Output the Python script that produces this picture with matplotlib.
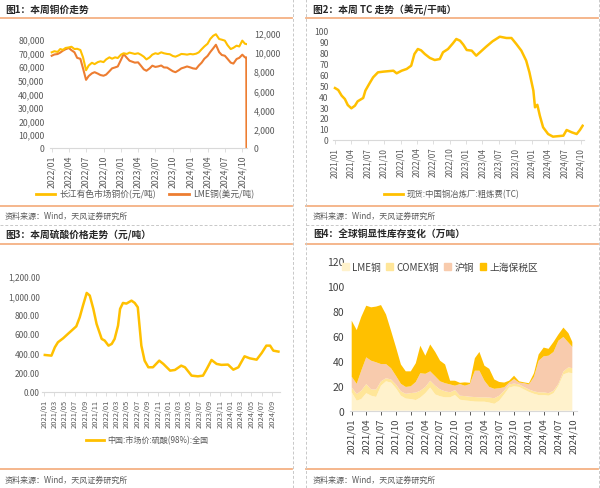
import numpy as np
import pandas as pd
import matplotlib
matplotlib.use('Agg')
import matplotlib.pyplot as plt
import matplotlib.dates as mdates
from matplotlib.lines import Line2D
from matplotlib.patches import Patch
from matplotlib.ticker import FuncFormatter

plt.rcParams['font.family'] = ['Noto Sans CJK SC', 'DejaVu Sans']

# ---------------- 数据 ----------------
# 图1 铜价（半月）
cu_dates = list(pd.date_range('2022-01-01', '2024-10-15', freq='SMS')) + [pd.Timestamp('2024-10-22')]
yangtze = [70200, 71000, 70500, 72600, 72000, 73400, 73800, 74300, 72600, 72800,
           71900, 66500, 57000, 60500, 62500, 61500, 63000, 63600, 63000, 65000,
           66500, 65500, 66500, 66000, 68500, 69500, 69000, 70000, 69500, 69000,
           69500, 68500, 67000, 65000, 66500, 68500, 69500, 69000, 70200, 69500,
           69000, 68800, 67500, 67000, 68000, 69000, 68800, 68500, 69000, 68700,
           69200, 70200, 72500, 74500, 76500, 80000, 82400, 83500, 80000, 79500,
           78800, 75500, 72600, 73500, 75100, 74500, 78800, 76500, 76300]
lme = [9620, 9750, 9800, 9950, 10150, 10300, 10430, 10200, 9980, 9400,
       9300, 8300, 7100, 7500, 7780, 7900, 7750, 7600, 7530, 7650,
       8000, 8300, 8400, 8500, 9200, 9800, 9400, 9100, 9000, 8900,
       8930, 8600, 8200, 8050, 8300, 8580, 8450, 8500, 8600, 8400,
       8380, 8200, 8000, 7900, 8100, 8300, 8400, 8500, 8400, 8300,
       8250, 8600, 8900, 9300, 9600, 10000, 10400, 10770, 10000, 9700,
       9620, 9300, 8900, 8800, 9280, 9400, 9730, 9450, 9450]
lme_tail_date = '2024-10-23'
lme_tail = 0

# 图2 TC
tc_dates = ['2021-01-01', '2021-01-19', '2021-02-07', '2021-02-25', '2021-03-13', '2021-04-02',
            '2021-04-22', '2021-05-07', '2021-06-07', '2021-06-19', '2021-07-10', '2021-08-01',
            '2021-08-28', '2021-09-25', '2021-11-22', '2021-12-10', '2022-01-07', '2022-02-04',
            '2022-03-01', '2022-03-19', '2022-04-07', '2022-04-25', '2022-05-16', '2022-06-13',
            '2022-07-10', '2022-08-07', '2022-08-25', '2022-09-22', '2022-10-19', '2022-11-07',
            '2022-11-28', '2022-12-16', '2023-01-04', '2023-02-01', '2023-02-26', '2023-03-25',
            '2023-04-22', '2023-05-28', '2023-07-07', '2023-08-13', '2023-09-10', '2023-10-07',
            '2023-11-04', '2023-12-01', '2023-12-19', '2024-01-10', '2024-01-19', '2024-02-01',
            '2024-02-15', '2024-03-04', '2024-04-01', '2024-04-28', '2024-06-25', '2024-07-13',
            '2024-08-10', '2024-09-07', '2024-09-25', '2024-10-10']
tc = [47.4, 45.6, 40.4, 37.3, 31.8, 28.8, 31.2, 35.2, 38.3, 45.0, 51.1, 57.2,
      61.8, 62.4, 63.3, 60.9, 63.3, 64.9, 67.9, 78.6, 83.2, 82.0, 78.6, 75.0,
      73.1, 74.0, 80.2, 83.2, 88.4, 92.4, 90.8, 87.2, 82.3, 81.7, 77.1, 81.1,
      85.3, 90.3, 94.5, 93.3, 93.3, 87.8, 81.7, 72.5, 61.8, 45.0, 29.7, 32.0,
      22.0, 11.4, 5.2, 2.8, 3.7, 8.9, 6.8, 5.2, 8.9, 12.8]

# 图3 硫酸
sa_dates = ['2021-01-04', '2021-02-12', '2021-03-04', '2021-03-22', '2021-04-22', '2021-05-19',
            '2021-06-10', '2021-07-08', '2021-07-28', '2021-08-16', '2021-09-07', '2021-09-25',
            '2021-10-16', '2021-11-04', '2021-12-04', '2021-12-22', '2022-01-13', '2022-02-01',
            '2022-02-18', '2022-03-10', '2022-03-22', '2022-04-08', '2022-04-28', '2022-05-28',
            '2022-06-16', '2022-07-04', '2022-07-25', '2022-08-13', '2022-09-04', '2022-10-01',
            '2022-11-07', '2022-12-01', '2023-01-10', '2023-02-07', '2023-03-16', '2023-04-07',
            '2023-05-16', '2023-06-22', '2023-07-22', '2023-08-13', '2023-09-10', '2023-10-10',
            '2023-11-07', '2023-12-16', '2024-01-16', '2024-02-15', '2024-03-22', '2024-04-22',
            '2024-06-01', '2024-07-01', '2024-07-28', '2024-08-19', '2024-09-07', '2024-10-07']
sa = [382, 375, 462, 514, 556, 600, 635, 680, 774, 895, 1027, 1000,
      861, 705, 549, 531, 479, 497, 549, 687, 861, 923, 916, 947,
      923, 878, 479, 323, 254, 254, 323, 289, 219, 226, 271, 254,
      167, 160, 167, 236, 330, 289, 279, 282, 229, 254, 368, 347,
      333, 403, 479, 479, 427, 417]

# 图4 库存（万吨）
inv_dates = list(pd.date_range('2021-01-01', '2024-09-01', freq='MS')) + [pd.Timestamp('2024-09-25')]
inv_lme = [14.7, 8.0, 9.3, 14.0, 12.0, 11.0, 20.0, 23.5, 22.5, 18.0,
           12.0, 9.7, 9.3, 8.5, 10.5, 14.0, 18.5, 13.0, 11.5, 10.7,
           10.7, 12.5, 8.8, 8.2, 7.8, 7.3, 7.2, 7.2, 6.5, 5.5,
           8.0, 13.0, 18.5, 19.5, 19.0, 17.0, 15.0, 13.5, 12.5, 12.5,
           12.0, 14.0, 20.0, 29.0, 30.5, 30.0]
inv_comex = [4.0, 5.3, 6.7, 7.3, 5.0, 6.0, 3.5, 2.5, 2.5, 3.0,
             3.5, 3.8, 4.8, 6.0, 5.5, 5.0, 5.5, 7.0, 5.5, 4.8,
             4.0, 4.0, 3.2, 3.5, 3.4, 3.6, 3.5, 3.5, 4.0, 4.5,
             4.0, 3.0, 2.5, 2.2, 2.0, 2.0, 2.0, 2.0, 2.2, 2.2,
             2.0, 2.0, 1.5, 2.5, 4.2, 4.0]
inv_shfe = [8.5, 8.2, 16.0, 21.4, 23.0, 21.7, 13.8, 11.3, 9.0, 7.0,
            6.0, 5.5, 5.4, 8.5, 14.0, 10.5, 7.5, 7.5, 6.5, 6.5,
            6.3, 3.5, 9.3, 8.3, 10.1, 21.1, 21.3, 13.3, 8.5, 7.5,
            6.0, 2.7, 1.5, 3.6, 1.5, 3.0, 4.0, 11.5, 25.3, 28.8,
            30.0, 31.0, 34.5, 27.5, 19.8, 17.0]
inv_bonded = [44.8, 43.0, 43.0, 41.3, 42.7, 44.6, 47.2, 39.7, 30.0, 23.0,
              15.5, 12.5, 12.0, 15.0, 22.0, 14.5, 21.5, 19.5, 16.5, 15.0,
              3.0, 4.0, 1.0, 2.7, 1.0, 10.0, 15.0, 12.0, 14.5, 7.5,
              5.0, 3.8, 1.5, 2.7, 1.0, 0.7, 1.0, 3.0, 5.0, 7.0,
              5.5, 8.0, 5.0, 7.5, 7.5, 4.0]
inv_labels = ['LME铜', 'COMEX铜', '沪铜', '上海保税区']

# ---------------- 画布 ----------------
W, H = 600, 489
fig = plt.figure(figsize=(W / 100, H / 100), dpi=100)
TXT = '#595959'
ORANGE_LINE = '#F4B183'
GOLD = '#FFC000'


def box(l, t, r, b):
    return fig.add_axes([l / W, 1 - b / H, (r - l) / W, (b - t) / H])


def xlim_px(ax, l, r, d0, p0, d1, p1):
    n0 = mdates.date2num(pd.Timestamp(d0))
    n1 = mdates.date2num(pd.Timestamp(d1))
    k = (n1 - n0) / (p1 - p0)
    ax.set_xlim(n0 + (l - p0) * k, n0 + (r - p0) * k)


def hline(y, x0, x1, **kw):
    fig.add_artist(Line2D([x0 / W, x1 / W], [1 - y / H, 1 - y / H], transform=fig.transFigure, **kw))


def vline(x, y0, y1, **kw):
    fig.add_artist(Line2D([x / W, x / W], [1 - y0 / H, 1 - y1 / H], transform=fig.transFigure, **kw))


def style(ax, fs, xstart, xend, step):
    for s in ['top', 'right', 'left']:
        ax.spines[s].set_visible(False)
    ax.spines['bottom'].set_color('#D9D9D9')
    ticks = pd.date_range(xstart, xend, freq='%dMS' % step)
    ax.set_xticks(mdates.date2num(ticks))
    ax.xaxis.set_major_formatter(mdates.DateFormatter('%Y/%m'))
    ax.tick_params(axis='x', labelrotation=90, labelsize=fs, colors=TXT, length=3, width=0.6, color='#D9D9D9', pad=2)
    ax.tick_params(axis='y', labelsize=fs, colors=TXT, length=0)
    ax.set_facecolor('none')


# 框线
for x0, x1 in [(0, 292), (306, 598)]:
    for y in [19, 207.3, 245, 470]:
        hline(y, x0, x1, color=ORANGE_LINE, lw=1.3)
    hline(226, x0, x1, color='#C8C8C8', lw=0.7, ls=(0, (3, 2)))
for x in [292.7, 306, 598.5]:
    vline(x, 0, H, color='#C8C8C8', lw=0.7, ls=(0, (3, 2)))

title_kw = dict(fontsize=7, fontweight='bold', color='#262626', va='center', ha='left')
fig.text(5 / W, 1 - 10 / H, '图1：本周铜价走势', **title_kw)
fig.text(313 / W, 1 - 10 / H, '图2：本周 TC 走势（美元/干吨）', **title_kw)
fig.text(5 / W, 1 - 235 / H, '图3：本周硫酸价格走势（元/吨）', **title_kw)
fig.text(313 / W, 1 - 235 / H, '图4：全球铜显性库存变化（万吨）', **title_kw)
src_kw = dict(fontsize=5.8, color=TXT, va='center', ha='left')
for x, y in [(5, 216), (313, 216), (5, 480), (313, 480)]:
    fig.text(x / W, 1 - y / H, '资料来源：Wind，天风证券研究所', **src_kw)

# ---------------- 图1 ----------------
ax1 = box(50, 34, 247, 148.7)
ax1r = ax1.twinx()
ax1.plot(mdates.date2num(cu_dates), yangtze, color=GOLD, lw=1.5, zorder=3)
ax1r.plot(mdates.date2num(cu_dates + [pd.Timestamp(lme_tail_date)]), lme + [lme_tail], color='#ED7D31', lw=1.5)
ax1.set_zorder(ax1r.get_zorder() + 1)
style(ax1, 6.3, '2022-01-01', '2024-10-01', 3)
ax1.set_ylim(0, 80000 * (148.7 - 34) / (148.7 - 40))
ax1.set_yticks(np.arange(0, 80001, 10000))
ax1.yaxis.set_major_formatter(FuncFormatter(lambda v, p: '{:,.0f}'.format(v)))
ax1.tick_params(axis='y', pad=4)
ax1r.set_ylim(0, 12000)
ax1r.set_yticks(np.arange(0, 12001, 2000))
ax1r.yaxis.set_major_formatter(FuncFormatter(lambda v, p: '{:,.0f}'.format(v)))
ax1r.tick_params(axis='y', labelsize=6.3, colors=TXT, length=0, pad=5)
for s in ax1r.spines.values():
    s.set_visible(False)
xlim_px(ax1, 50, 247, '2022-01-01', 51.7, '2024-10-01', 242.3)
ax1r.set_xlim(ax1.get_xlim())
h1 = [Line2D([], [], color=GOLD, lw=2), Line2D([], [], color='#ED7D31', lw=2)]
fig.legend(h1, ['长江有色市场铜价(元/吨)', 'LME铜(美元/吨)'], loc='center', ncol=2,
           bbox_to_anchor=(145 / W, 1 - 195 / H), frameon=False, fontsize=6.3,
           handlelength=2.2, columnspacing=1.5, handletextpad=0.5, labelcolor=TXT)

# ---------------- 图2 ----------------
ax2 = box(333, 31.7, 584, 140.7)
ax2.plot(mdates.date2num(pd.to_datetime(tc_dates)), tc, color=GOLD, lw=1.8)
style(ax2, 5.8, '2021-01-01', '2024-10-01', 3)
ax2.set_ylim(0, 100)
ax2.set_yticks(np.arange(0, 101, 10))
ax2.tick_params(axis='y', labelsize=6.2, pad=3)
xlim_px(ax2, 333, 584, '2021-01-01', 335, '2024-10-01', 581)
fig.legend([Line2D([], [], color=GOLD, lw=2)], ['现货:中国铜冶炼厂:粗炼费(TC)'], loc='center',
           bbox_to_anchor=(452 / W, 1 - 195 / H), frameon=False, fontsize=6.0,
           handlelength=2.2, handletextpad=0.5, labelcolor=TXT)

# ---------------- 图3 ----------------
ax3 = box(42, 277.3, 280, 392.7)
ax3.plot(mdates.date2num(pd.to_datetime(sa_dates)), sa, color=GOLD, lw=1.8)
style(ax3, 5.4, '2021-01-01', '2024-09-01', 2)
ax3.set_ylim(0, 1200)
ax3.set_yticks(np.arange(0, 1201, 200))
ax3.yaxis.set_major_formatter(FuncFormatter(lambda v, p: '{:,.2f}'.format(v)))
ax3.tick_params(axis='y', labelsize=6.0, pad=1.5)
xlim_px(ax3, 42, 280, '2021-01-01', 44.3, '2024-09-01', 272.3)
fig.legend([Line2D([], [], color=GOLD, lw=2)], ['中国:市场价:硫酸(98%):全国'], loc='center',
           bbox_to_anchor=(147 / W, 1 - 441 / H), frameon=False, fontsize=5.8,
           handlelength=2.2, handletextpad=0.4, labelcolor=TXT)

# ---------------- 图4 ----------------
ax4 = box(350, 261.7, 577, 411.7)
ax4.stackplot(mdates.date2num(inv_dates), inv_lme, inv_comex, inv_shfe, inv_bonded,
              colors=['#FFF2CC', '#FFE699', '#F8CBAD', GOLD], labels=inv_labels, lw=0)
style(ax4, 6.8, '2021-01-01', '2024-10-01', 3)
ax4.set_ylim(0, 120)
ax4.set_yticks(np.arange(0, 121, 20))
ax4.tick_params(axis='y', labelsize=7.5, colors='#404040', pad=4)
ax4.tick_params(axis='x', colors='#404040')
xlim_px(ax4, 350, 577, '2021-01-01', 351.7, '2024-10-01', 573.3)
h4 = [Patch(color=c) for c in ['#FFF2CC', '#FFE699', '#F8CBAD', GOLD]]
ax4.legend(h4, inv_labels, loc='center', ncol=4, bbox_to_anchor=(440 / W, 1 - 268 / H),
           bbox_transform=fig.transFigure, frameon=False, fontsize=7.0,
           handlelength=0.7, handleheight=0.7, handletextpad=0.3, columnspacing=0.6, labelcolor='#404040')

fig.savefig('out.png', dpi=100)
